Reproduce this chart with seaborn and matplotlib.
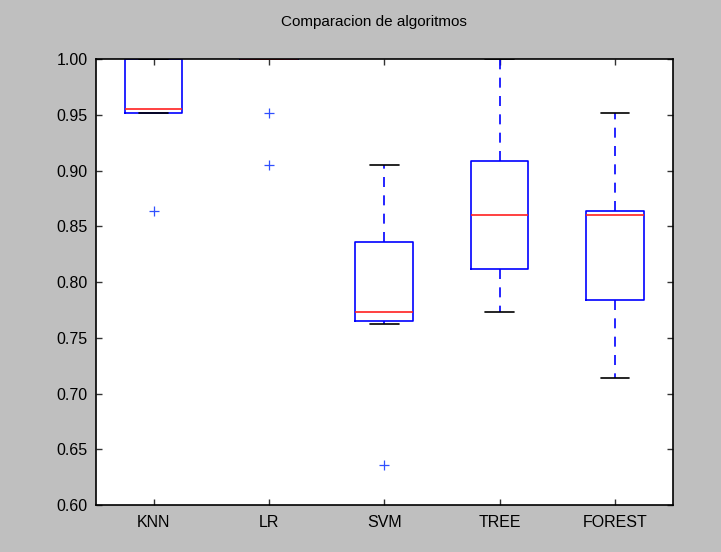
import pandas as pd
import matplotlib
matplotlib.use("Agg")
import matplotlib.pyplot as plt
import seaborn as sns

# cross-validation scores (10 folds per model)
names = ['KNN', 'LR', 'SVM', 'TREE', 'FOREST']
knn = [0.864, 0.952, 0.952, 0.952, 0.955, 0.955, 1.0, 1.0, 1.0, 1.0]
lr = [0.905, 0.952, 1.0, 1.0, 1.0, 1.0, 1.0, 1.0, 1.0, 1.0]
svm = [0.636, 0.762, 0.762, 0.773, 0.773, 0.773, 0.836, 0.836, 0.857, 0.905]
tree = [0.773, 0.800, 0.810, 0.818, 0.857, 0.864, 0.909, 0.909, 0.952, 1.0]
forest = [0.714, 0.762, 0.773, 0.818, 0.857, 0.864, 0.864, 0.864, 0.905, 0.952]

results = [knn, lr, svm, tree, forest]
rows = []
for name, scores in zip(names, results):
    for s in scores:
        rows.append({'model': name, 'score': s})
df = pd.DataFrame(rows)

sns.set_style('ticks')
plt.rcParams['font.family'] = ['Liberation Sans', 'DejaVu Sans']
plt.rcParams['xtick.direction'] = 'in'
plt.rcParams['ytick.direction'] = 'in'
plt.rcParams['text.color'] = 'black'
plt.rcParams['xtick.labelcolor'] = 'black'
plt.rcParams['ytick.labelcolor'] = 'black'

fig = plt.figure(figsize=(7.21, 5.52), dpi=100)
fig.patch.set_facecolor('#bfbfbf')
ax = fig.add_axes([0.133, 0.085, 0.8, 0.808])
ax.set_facecolor('white')

sns.boxplot(data=df, x='model', y='score', order=names, ax=ax,
            fill=False, color='#0000ff', width=0.5, linewidth=1.2,
            whis=1.5,
            medianprops={'color': '#ff2020', 'linewidth': 1.2},
            whiskerprops={'color': '#0000ff', 'linestyle': (0, (6, 5)), 'linewidth': 1.2},
            capprops={'color': 'black', 'linewidth': 1.2},
            flierprops={'marker': '+', 'markeredgecolor': '#3050ff', 'markersize': 7,
                        'markeredgewidth': 0.9, 'color': '#3050ff'})

fig.suptitle('Comparacion de algoritmos', fontsize=11, x=0.519, y=0.972, color='black')
ax.set_ylim(0.60, 1.00)
ax.set_xlim(-0.5, 4.5)
ax.set_yticks([0.60, 0.65, 0.70, 0.75, 0.80, 0.85, 0.90, 0.95, 1.00])
ax.set_yticklabels(['%.2f' % v for v in ax.get_yticks()])
ax.set_xlabel('')
ax.set_ylabel('')
ax.tick_params(axis='both', labelsize=11.5, top=True, right=True, length=4, width=1,
               color='#333333', labelcolor='black')
ax.tick_params(axis='x', pad=7)
ax.tick_params(axis='y', pad=6)
for sp in ax.spines.values():
    sp.set_visible(True)
    sp.set_color('black')
    sp.set_linewidth(1.2)

fig.savefig('out.png', dpi=100, facecolor=fig.get_facecolor())
